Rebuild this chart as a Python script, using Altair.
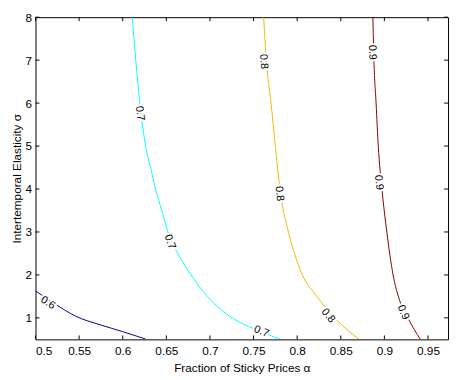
import altair as alt
import pandas as pd

# Contour lines (x = fraction of sticky prices, y = intertemporal elasticity)
lvl06_x = [0.500, 0.522, 0.546, 0.574, 0.600, 0.626]
lvl06_y = [1.63, 1.33, 1.04, 0.84, 0.68, 0.51]

lvl07_x = [0.611, 0.615, 0.6196, 0.6263, 0.6338, 0.6375, 0.6413, 0.6488, 0.6525, 0.6618, 0.675, 0.697, 0.727, 0.750, 0.780]
lvl07_y = [8.0, 7.0, 6.0, 5.0, 4.34, 4.0, 3.74, 3.22, 2.96, 2.55, 2.10, 1.50, 0.98, 0.75, 0.51]

lvl08_x = [0.7616, 0.7646, 0.770, 0.775, 0.7802, 0.790, 0.797, 0.806, 0.8225, 0.843, 0.871]
lvl08_y = [8.0, 7.0, 6.0, 5.0, 4.0, 3.0, 2.5, 2.0, 1.5, 1.0, 0.5]

lvl09_x = [0.8868, 0.888, 0.8905, 0.893, 0.8972, 0.9028, 0.910, 0.916, 0.927, 0.9413]
lvl09_y = [8.0, 7.0, 6.0, 5.0, 4.0, 3.0, 2.0, 1.5, 1.0, 0.5]

levels = ["0.6", "0.7", "0.8", "0.9"]
level_colors = ["#00008F", "#00FFFF", "#F2BA00", "#800000"]

# Contour labels
lab_text = ["0.6", "0.7", "0.7", "0.7", "0.8", "0.8", "0.8", "0.9", "0.9", "0.9"]
lab_x = [0.5142, 0.6196, 0.654, 0.759, 0.7615, 0.7795, 0.8355, 0.886, 0.8935, 0.9215]
lab_y = [1.35, 5.76, 2.77, 0.68, 6.97, 3.89, 1.05, 7.18, 4.15, 1.13]
lab_angle = [33, 82, 69, 22, 86, 84, 51, 88, 85, 66]

x_ticks = [0.5, 0.55, 0.6, 0.65, 0.7, 0.75, 0.8, 0.85, 0.9, 0.95]
y_ticks = [1, 2, 3, 4, 5, 6, 7, 8]

W, H = 420, 328
X_DOM = [0.5, 0.973]
Y_DOM = [0.5, 8]

rows = []
for lv, xs_, ys_ in zip(levels, [lvl06_x, lvl07_x, lvl08_x, lvl09_x], [lvl06_y, lvl07_y, lvl08_y, lvl09_y]):
    for i, (a, b) in enumerate(zip(xs_, ys_)):
        rows.append({"level": lv, "x": a, "y": b, "i": i})
lines_df = pd.DataFrame(rows)
labels_df = pd.DataFrame({"t": lab_text, "x": lab_x, "y": lab_y, "a": lab_angle})
xt_df = pd.DataFrame({"v": x_ticks})
yt_df = pd.DataFrame({"v": y_ticks})

xs = alt.Scale(domain=X_DOM, nice=False, zero=False)
ys = alt.Scale(domain=Y_DOM, nice=False, zero=False)

lines = alt.Chart(lines_df).mark_line(strokeWidth=1, clip=True, interpolate="monotone").encode(
    x=alt.X("x:Q", scale=xs,
            axis=alt.Axis(values=x_ticks, format="~g", title="Fraction of Sticky Prices α",
                          ticks=False, domain=False, grid=False, labelPadding=6,
                          titlePadding=7)),
    y=alt.Y("y:Q", scale=ys,
            axis=alt.Axis(values=y_ticks, format="d", title="Intertemporal Elasticity σ",
                          ticks=False, domain=False, grid=False, labelPadding=4,
                          titlePadding=2)),
    color=alt.Color("level:N", scale=alt.Scale(domain=levels, range=level_colors), legend=None),
    detail="level:N",
    order="i:Q",
)

halo = alt.Chart(labels_df).mark_text(
    font="Liberation Sans", fontSize=11, color="white", stroke="white", strokeWidth=4
).encode(x=alt.X("x:Q", scale=xs), y=alt.Y("y:Q", scale=ys), text="t:N", angle=alt.Angle("a:Q", scale=None))

texts = alt.Chart(labels_df).mark_text(
    font="Liberation Sans", fontSize=11, color="black"
).encode(x=alt.X("x:Q", scale=xs), y=alt.Y("y:Q", scale=ys), text="t:N", angle=alt.Angle("a:Q", scale=None))

tk = dict(color="black", strokeWidth=1)
xb = alt.Chart(xt_df).mark_rule(**tk).encode(x=alt.X("v:Q", scale=xs), y=alt.value(H), y2=alt.value(H - 4))
xtop = alt.Chart(xt_df).mark_rule(**tk).encode(x=alt.X("v:Q", scale=xs), y=alt.value(0), y2=alt.value(4))
yl = alt.Chart(yt_df).mark_rule(**tk).encode(y=alt.Y("v:Q", scale=ys), x=alt.value(0), x2=alt.value(4))
yr = alt.Chart(yt_df).mark_rule(**tk).encode(y=alt.Y("v:Q", scale=ys), x=alt.value(W - 4), x2=alt.value(W))

chart = alt.layer(lines, halo, texts, xb, xtop, yl, yr).properties(
    width=W, height=H,
    autosize=alt.AutoSizeParams(type="none"),
    padding={"left": 28, "top": 6, "right": 3, "bottom": 38},
    background="white",
).configure_view(stroke="black", strokeWidth=1).configure_axis(
    labelFont="Liberation Sans", labelFontSize=12, labelColor="black",
    titleFont="Liberation Sans", titleFontSize=12, titleFontWeight="normal", titleColor="black",
)

chart.save("out.html", embed_options={"renderer": "svg", "actions": False})
